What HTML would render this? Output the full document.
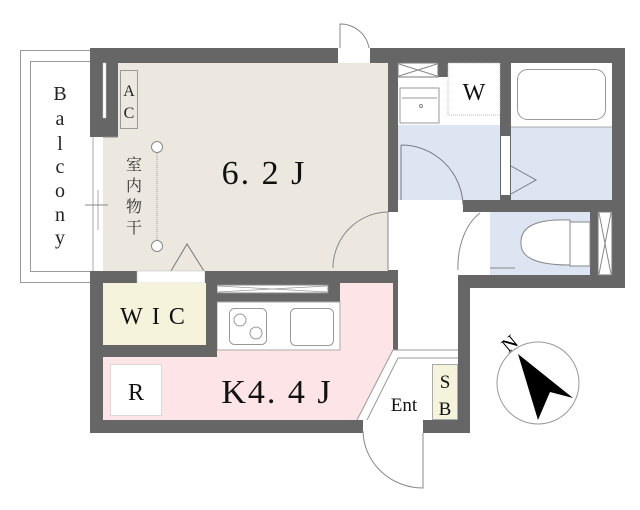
<!DOCTYPE html>
<html><head><meta charset="utf-8"><style>html,body{margin:0;padding:0;background:#fff}svg{display:block}</style></head><body>
<svg width="640" height="510" viewBox="0 0 640 510" xmlns="http://www.w3.org/2000/svg" font-family="Liberation Serif, Noto Serif CJK SC, serif">
<!-- balcony -->
<rect x="20.5" y="50.5" width="70" height="232" fill="#fff" stroke="#999"/>
<rect x="30.5" y="61.5" width="60" height="210" fill="#fff" stroke="#999"/>
<text font-size="20" text-anchor="middle" fill="#222">
<tspan x="60" y="100">B</tspan><tspan x="60" y="125">a</tspan><tspan x="60" y="150">l</tspan><tspan x="60" y="173">c</tspan><tspan x="60" y="197">o</tspan><tspan x="60" y="221">n</tspan><tspan x="60" y="244">y</tspan></text>
<!-- walls base -->
<path d="M90 48 H625 V288 H470 V433 H90 Z" fill="#666"/>
<!-- room -->
<rect x="118" y="63" width="270" height="208" fill="#ece8df"/>
<rect x="103" y="137" width="20" height="134" fill="#ece8df"/>
<line x1="103" y1="137" x2="118" y2="137" stroke="#888"/>
<!-- window left -->
<rect x="90" y="137" width="13" height="134" fill="#fff"/>
<line x1="93" y1="137" x2="93" y2="271" stroke="#aaa"/>
<line x1="98" y1="190" x2="98" y2="230" stroke="#aaa"/>
<line x1="85" y1="205" x2="108" y2="205" stroke="#888"/>
<rect x="103" y="63" width="3" height="55" fill="#fff" stroke="#ccc" stroke-width="0.5"/>
<!-- AC -->
<rect x="120.5" y="70.5" width="17" height="58" fill="#ece8df" stroke="#999"/>
<text x="129" y="96" font-size="16" text-anchor="middle" fill="#222">A</text>
<text x="129" y="118" font-size="16" text-anchor="middle" fill="#222">C</text>
<!-- drying rod -->
<line x1="157" y1="147" x2="157" y2="246" stroke="#999" stroke-dasharray="1 1"/>
<circle cx="157" cy="147" r="5.5" fill="#fff" stroke="#888"/>
<circle cx="157" cy="246" r="5.5" fill="#fff" stroke="#888"/>
<text font-size="16" text-anchor="middle" fill="#333"><tspan x="134" y="170">室</tspan><tspan x="134" y="191">内</tspan><tspan x="134" y="212">物</tspan><tspan x="134" y="233">干</tspan></text>
<text x="264" y="184" font-size="34" text-anchor="middle" fill="#111" letter-spacing="2">6. 2 J</text>
<polyline points="171,271 187,244 204,271" fill="none" stroke="#777"/>
<rect x="137" y="271" width="68" height="12" fill="#fff" stroke="#bbb" stroke-width="0.5"/>
<!-- top door -->
<rect x="338" y="48" width="32" height="15" fill="#fff"/>
<path d="M340 48 V24 A29 29 0 0 1 369 48" fill="none" stroke="#888"/>
<!-- room door -->
<rect x="388" y="212" width="10" height="58" fill="#fff"/>
<path d="M388 212 A56 56 0 0 0 333 268" fill="none" stroke="#888"/>
<line x1="388" y1="212" x2="388" y2="270" stroke="#888"/>
<!-- corridor -->
<rect x="398" y="212" width="60" height="208" fill="#fff"/>
<rect x="458" y="212" width="32" height="63" fill="#fff"/>
<!-- washroom -->
<rect x="398" y="77" width="102" height="123" fill="#dde5f2"/>
<rect x="398" y="77" width="102" height="48" fill="#fff"/>
<rect x="448" y="63" width="52" height="52" fill="#fff" stroke="#bbb" stroke-dasharray="1 1"/>
<text x="474" y="100" font-size="24" text-anchor="middle" fill="#111">W</text>
<rect x="398" y="63" width="40" height="14" fill="#fff" stroke="#777"/>
<path d="M399 64 L437 76 M437 64 L399 76" stroke="#888"/>
<rect x="400" y="88" width="39" height="35" fill="#fff" stroke="#999"/>
<line x1="402" y1="98" x2="437" y2="98" stroke="#999"/>
<circle cx="421" cy="106" r="1.5" fill="none" stroke="#888"/>
<rect x="398" y="200" width="65" height="12" fill="#fff"/>
<path d="M401 145 A62 62 0 0 1 463 205" fill="none" stroke="#778"/>
<line x1="401" y1="145" x2="401" y2="200" stroke="#778"/>
<!-- bath -->
<rect x="511" y="63" width="101" height="137" fill="#dde5f2"/>
<rect x="511" y="63" width="101" height="64" fill="#fff"/>
<line x1="511" y1="127" x2="612" y2="127" stroke="#aaa"/>
<rect x="517.5" y="69.5" width="88" height="50" rx="10" fill="#fff" stroke="#999"/>
<rect x="501" y="136" width="9" height="59" fill="#fff"/>
<polyline points="511,166 536,180 511,194" fill="none" stroke="#778"/>
<!-- toilet -->
<rect x="490" y="212" width="100" height="63" fill="#dde5f2"/>
<rect x="598" y="212" width="14" height="63" fill="#fff" stroke="#777"/>
<path d="M599 213 L611 274 M611 213 L599 274" stroke="#888"/>
<path d="M570 220 Q520 218 521 243 Q520 265 570 265 Z" fill="#fff" stroke="#888"/>
<rect x="570" y="222" width="20" height="44" fill="#fff" stroke="#888"/>
<rect x="480" y="212" width="10" height="63" fill="#fff"/>
<path d="M480 213 A40 60 0 0 0 458 270" fill="none" stroke="#888"/>
<line x1="490" y1="268" x2="515" y2="268" stroke="#888"/>
<!-- kitchen -->
<rect x="217" y="283" width="176" height="137" fill="#fde4e6"/>
<rect x="103" y="357" width="120" height="63" fill="#fde4e6"/>
<rect x="205" y="271" width="183" height="12" fill="#666"/>
<rect x="205" y="283" width="135" height="19" fill="#666"/>
<rect x="217" y="285" width="111" height="8" fill="#fff" stroke="#888"/>
<path d="M218 286 L327 292 M327 286 L218 292" stroke="#999" stroke-width="0.7"/>
<rect x="217" y="302" width="123" height="48" fill="#fff" stroke="#aaa"/>
<rect x="229.5" y="308.5" width="37" height="36" rx="5" fill="none" stroke="#999"/>
<circle cx="240" cy="320" r="6" fill="none" stroke="#999"/>
<circle cx="256" cy="333" r="6" fill="none" stroke="#999"/>
<rect x="290.5" y="308.5" width="43" height="37" rx="5" fill="none" stroke="#999"/>
<!-- WIC -->
<rect x="103" y="283" width="103" height="62" fill="#f6f3dc"/>
<rect x="206" y="283" width="11" height="74" fill="#666"/>
<rect x="103" y="345" width="114" height="12" fill="#666"/>
<text x="157" y="324" font-size="24" text-anchor="middle" fill="#111" letter-spacing="9">WIC</text>
<rect x="110.5" y="364.5" width="51" height="51" fill="#fff" stroke="#bbb" stroke-dasharray="1 1"/>
<text x="136" y="400" font-size="24" text-anchor="middle" fill="#111">R</text>
<text x="277" y="403" font-size="34" text-anchor="middle" fill="#111" letter-spacing="2">K4. 4 J</text>
<!-- Ent -->
<polygon points="393,350 458,350 458,420 357,420" fill="#fff"/>
<line x1="393" y1="350" x2="458" y2="350" stroke="#999"/>
<line x1="393" y1="350" x2="357" y2="420" stroke="#999"/>
<line x1="398" y1="358" x2="458" y2="358" stroke="#999"/>
<line x1="398" y1="358" x2="367" y2="420" stroke="#999"/>
<rect x="432.5" y="364.5" width="25" height="55" fill="#f6f3dc" stroke="#aaa"/>
<text x="445" y="388" font-size="19" text-anchor="middle" fill="#111">S</text>
<text x="445" y="415" font-size="19" text-anchor="middle" fill="#111">B</text>
<text x="404" y="411" font-size="19" text-anchor="middle" fill="#111">Ent</text>
<!-- entry door -->
<rect x="363" y="420" width="60" height="13" fill="#fff"/>
<path d="M363 431 A60 58 0 0 0 423 488 V433" fill="none" stroke="#888"/>
<!-- compass -->
<circle cx="538" cy="383" r="41" fill="#fff" stroke="#999"/>
<polygon points="518,354 573,398 550,392 538,420" fill="#000"/>
<text x="510" y="350" font-size="20" text-anchor="middle" fill="#000" transform="rotate(-40 510 344)">N</text>
</svg>
</body></html>
